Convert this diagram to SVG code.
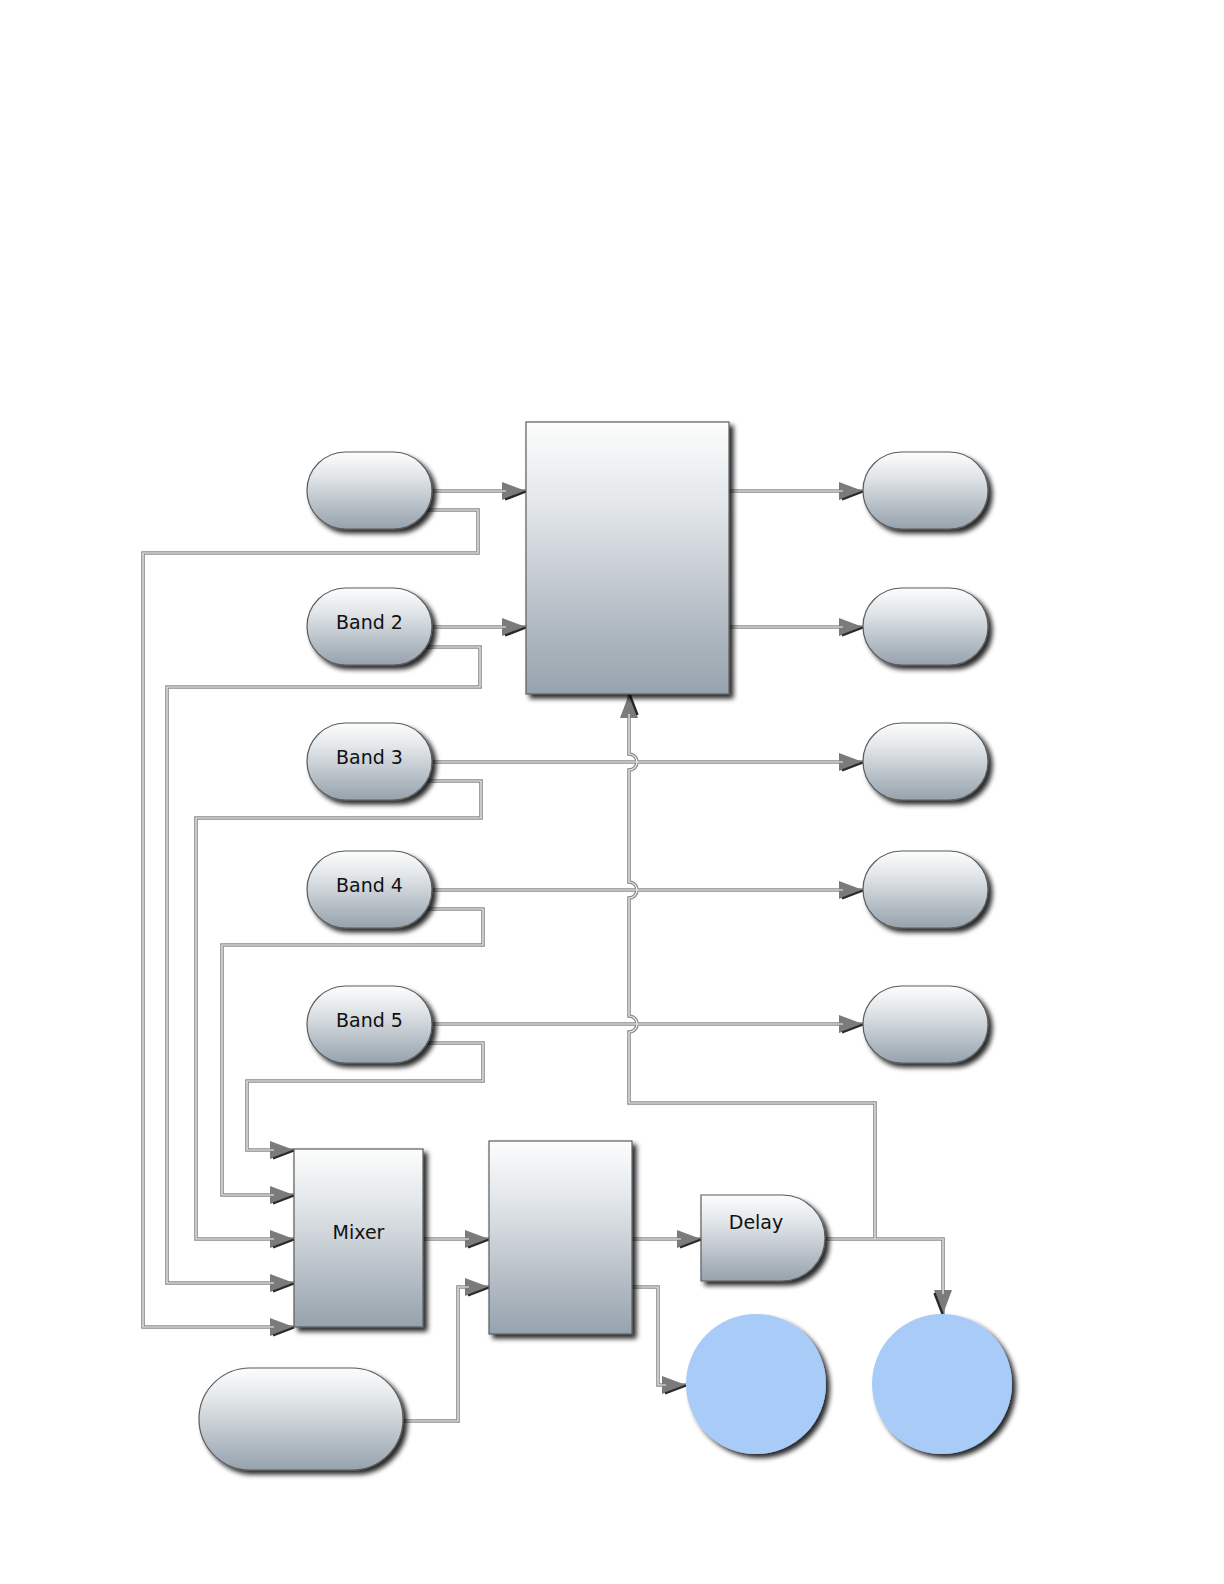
<svg xmlns="http://www.w3.org/2000/svg" width="1224" height="1584" viewBox="0 0 1224 1584">
<style>
.node{fill:url(#g);stroke:#5c5c5c;stroke-width:1.2;filter:url(#sh)}
.circ{fill:#a8cbf8;filter:url(#sh)}
.lbl{font-family:"DejaVu Sans",Verdana,sans-serif;font-size:19px;fill:#111;text-anchor:middle}
.co{fill:none;stroke:#8a8a8a;stroke-width:3.6}
.ci{fill:none;stroke:#f4f4f4;stroke-width:1.2}
.ca{marker-end:url(#ah)}
</style>
<defs>
<linearGradient id="g" x1="0" y1="0" x2="0" y2="1">
<stop offset="0" stop-color="#fcfdfd"/>
<stop offset="0.3" stop-color="#e3e7ea"/>
<stop offset="1" stop-color="#96a2ad"/>
</linearGradient>
<filter id="sh" x="-20%" y="-20%" width="150%" height="150%">
<feGaussianBlur in="SourceAlpha" stdDeviation="2.5"/>
<feOffset dx="4" dy="4" result="b"/>
<feComponentTransfer><feFuncA type="linear" slope="0.85"/></feComponentTransfer>
<feMerge><feMergeNode/><feMergeNode in="SourceGraphic"/></feMerge>
</filter>
<marker id="ah" viewBox="0 0 26 20" refX="25" refY="10" markerWidth="26" markerHeight="20" markerUnits="userSpaceOnUse" orient="auto">
<path d="M1,1 L25,10 L1,19 Z" fill="#7b7b7b"/>
<path d="M4,18.5 L25,10.5" stroke="#2a2a2a" stroke-width="2.4"/>
</marker>
</defs>
<rect width="1224" height="1584" fill="#ffffff"/>

<g id="connectors">
<g class="co">
<path class="ca" d="M432,491 H526"/>
<path class="ca" d="M432,627 H526"/>
<path class="ca" d="M729,491 H863"/>
<path class="ca" d="M729,627 H863"/>
<path class="ca" d="M432,762 H863"/>
<path class="ca" d="M432,890 H863"/>
<path class="ca" d="M432,1024 H863"/>
<path class="ca" d="M427,510 H478 V553 H143 V1327 H294"/>
<path class="ca" d="M426,647 H480 V687 H167 V1283 H294"/>
<path class="ca" d="M426,781 H481 V818 H196 V1239 H294"/>
<path class="ca" d="M426,909 H483 V945 H222 V1195 H294"/>
<path class="ca" d="M426,1043 H483 V1081 H247 V1150 H294"/>
<path class="ca" d="M423,1239 H489"/>
<path class="ca" d="M403,1421 H458 V1287 H489"/>
<path class="ca" d="M632,1239 H701"/>
<path class="ca" d="M632,1287 H658 V1385 H686"/>
<path class="ca" d="M825,1239 H943 V1314"/>
<path class="ca" d="M875,1239 V1103 H629 V1032 A8,8 0 0 0 629,1016 V898 A8,8 0 0 0 629,882 V770 A8,8 0 0 0 629,754 V694"/>
</g>
<g class="ci">
<path d="M432,491 H506"/>
<path d="M432,627 H506"/>
<path d="M729,491 H843"/>
<path d="M729,627 H843"/>
<path d="M432,762 H843"/>
<path d="M432,890 H843"/>
<path d="M432,1024 H843"/>
<path d="M427,510 H478 V553 H143 V1327 H274"/>
<path d="M426,647 H480 V687 H167 V1283 H274"/>
<path d="M426,781 H481 V818 H196 V1239 H274"/>
<path d="M426,909 H483 V945 H222 V1195 H274"/>
<path d="M426,1043 H483 V1081 H247 V1150 H274"/>
<path d="M423,1239 H469"/>
<path d="M403,1421 H458 V1287 H469"/>
<path d="M632,1239 H681"/>
<path d="M632,1287 H658 V1385 H666"/>
<path d="M825,1239 H943 V1294"/>
<path d="M875,1239 V1103 H629 V1032 A8,8 0 0 0 629,1016 V898 A8,8 0 0 0 629,882 V770 A8,8 0 0 0 629,754 V714"/>
</g>
</g>

<g id="main-box"><rect class="node" x="526" y="422" width="203" height="272"/></g>
<g id="in1"><rect class="node" x="307" y="452" width="125" height="77" rx="38.5"/></g>
<g id="band2"><rect class="node" x="307" y="588" width="125" height="77" rx="38.5"/><text class="lbl" x="369.5" y="629">Band 2</text></g>
<g id="band3"><rect class="node" x="307" y="723" width="125" height="77" rx="38.5"/><text class="lbl" x="369.5" y="764">Band 3</text></g>
<g id="band4"><rect class="node" x="307" y="851" width="125" height="77" rx="38.5"/><text class="lbl" x="369.5" y="892">Band 4</text></g>
<g id="band5"><rect class="node" x="307" y="986" width="125" height="77" rx="38.5"/><text class="lbl" x="369.5" y="1027">Band 5</text></g>
<g id="out1"><rect class="node" x="863" y="452" width="125" height="77" rx="38.5"/></g>
<g id="out2"><rect class="node" x="863" y="588" width="125" height="77" rx="38.5"/></g>
<g id="out3"><rect class="node" x="863" y="723" width="125" height="77" rx="38.5"/></g>
<g id="out4"><rect class="node" x="863" y="851" width="125" height="77" rx="38.5"/></g>
<g id="out5"><rect class="node" x="863" y="986" width="125" height="77" rx="38.5"/></g>
<g id="mixer"><rect class="node" x="294" y="1149" width="129" height="178"/><text class="lbl" x="358.5" y="1239">Mixer</text></g>
<g id="box2"><rect class="node" x="489" y="1141" width="143" height="193"/></g>
<g id="delay"><path class="node" d="M701,1195 H782 A43,43 0 0 1 782,1281 H701 Z"/><text class="lbl" x="756" y="1229">Delay</text></g>
<g id="bottom-pill"><rect class="node" x="199" y="1368" width="204" height="102" rx="51"/></g>
<g id="circle1"><circle class="circ" cx="756" cy="1384" r="70"/></g>
<g id="circle2"><circle class="circ" cx="942" cy="1384" r="70"/></g>
</svg>
